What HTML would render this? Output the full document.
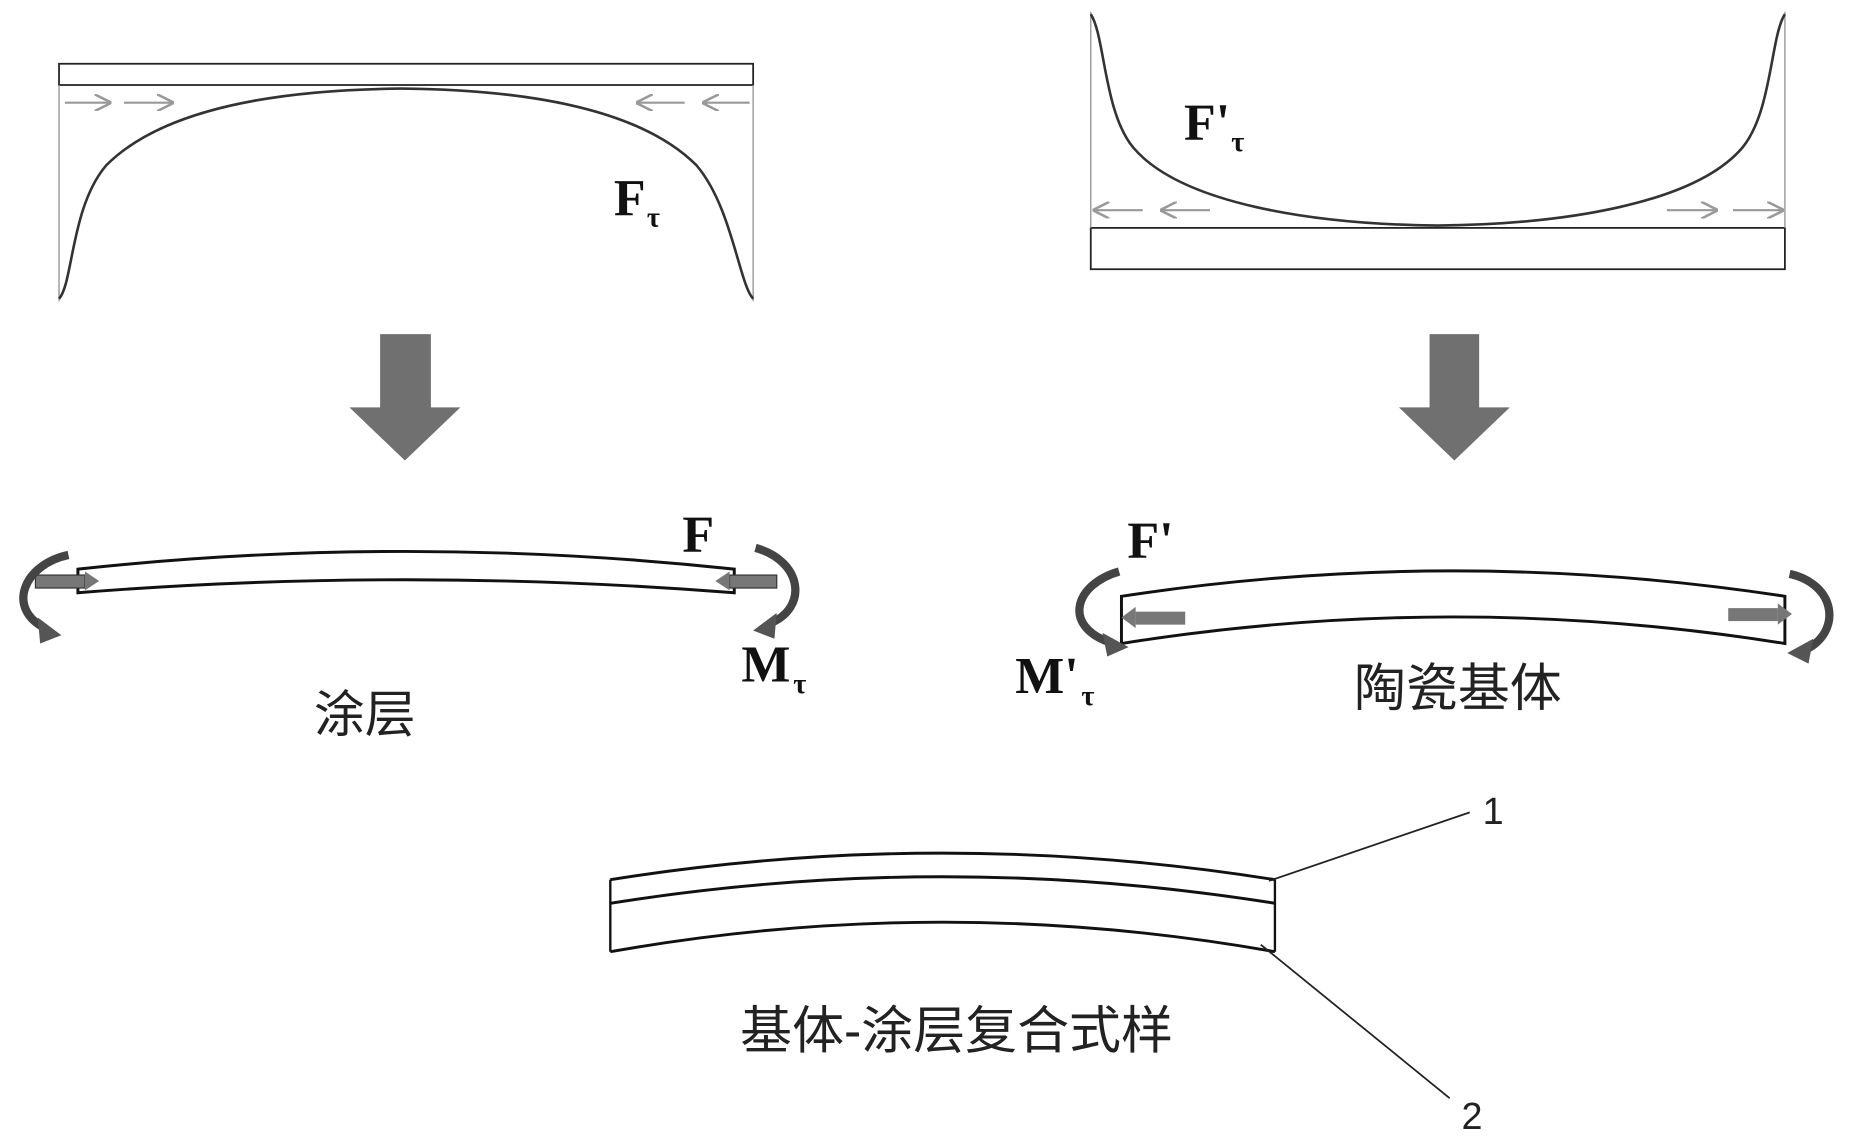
<!DOCTYPE html>
<html><head><meta charset="utf-8"><style>
html,body{margin:0;padding:0;background:#fff;}
svg{display:block;}
.s{font-family:"Liberation Serif",serif;font-weight:bold;fill:#111;}
.c{font-family:"Liberation Sans","Noto Sans CJK SC",sans-serif;fill:#222;}
</style></head><body>
<svg width="1851" height="1143" viewBox="0 0 1568 968" preserveAspectRatio="none" xmlns="http://www.w3.org/2000/svg">
<defs>
<marker id="ga" viewBox="0 0 10 10" refX="9" refY="5" markerWidth="8" markerHeight="8" orient="auto"><path d="M0,0 L10,5 L0,10" fill="none" stroke="#999" stroke-width="1.5"/></marker>
</defs>
<rect x="50" y="54" width="588" height="18" fill="none" stroke="#222" stroke-width="1.5"/>
<line x1="50" y1="72" x2="50" y2="255" stroke="#999" stroke-width="1.2"/>
<line x1="638" y1="72" x2="638" y2="255" stroke="#999" stroke-width="1.2"/>
<path d="M50,253 C62,240 60,175 90,140 C140,90 240,76 340,75 C440,76 540,90 590,140 C620,175 626,240 638,253" fill="none" stroke="#333" stroke-width="2.2"/>
<g stroke="#999" stroke-width="1.8" marker-end="url(#ga)">
<line x1="55" y1="87" x2="93" y2="87"/><line x1="105" y1="87" x2="146" y2="87"/>
<line x1="580" y1="87" x2="540" y2="87"/><line x1="635" y1="87" x2="596" y2="87"/>
</g>
<text x="520" y="182" class="s" font-size="44">F</text><text x="548" y="192" class="s" font-size="24">τ</text>
<rect x="924" y="193" width="588" height="35" fill="none" stroke="#222" stroke-width="1.5"/>
<line x1="924" y1="10" x2="924" y2="193" stroke="#999" stroke-width="1.2"/>
<line x1="1512" y1="10" x2="1512" y2="193" stroke="#999" stroke-width="1.2"/>
<path d="M924,12 C936,30 935,95 960,125 C1000,172 1110,190 1218,191 C1326,190 1436,172 1476,125 C1501,95 1500,30 1512,12" fill="none" stroke="#333" stroke-width="2.2"/>
<g stroke="#999" stroke-width="1.8" marker-end="url(#ga)">
<line x1="968" y1="178" x2="927" y2="178"/><line x1="1025" y1="178" x2="984" y2="178"/>
<line x1="1412" y1="178" x2="1454" y2="178"/><line x1="1468" y1="178" x2="1510" y2="178"/>
</g>
<text x="1003" y="118" class="s" font-size="44">F'</text><text x="1043" y="128" class="s" font-size="24">τ</text>
<polygon points="322,283 365,283 365,345 390,345 343,390 296,345 322,345" fill="#707070"/>
<polygon points="1211,283 1253,283 1253,345 1279,345 1232,390 1185,345 1211,345" fill="#707070"/>
<path d="M66,482 Q342,452 622,482 L622,502 Q342,480 66,502 Z" fill="none" stroke="#111" stroke-width="2.5"/>
<rect x="30" y="487" width="42" height="11" fill="#777" stroke="#333" stroke-width="1"/><polygon points="72,484 84,492 72,500" fill="#777"/>
<rect x="618" y="487" width="40" height="11" fill="#777" stroke="#333" stroke-width="1"/><polygon points="618,484 606,492 618,500" fill="#777"/>
<path d="M58,470 C20,478 5,515 38,532" fill="none" stroke="#444" stroke-width="7"/>
<polygon points="32,523 52,538 34,545" fill="#555"/>
<path d="M640,464 C680,475 685,515 652,528" fill="none" stroke="#444" stroke-width="7"/>
<polygon points="658,519 638,534 656,541" fill="#555"/>
<text x="578" y="467" class="s" font-size="44">F</text>
<text x="628" y="577" class="s" font-size="44">M</text><text x="672" y="587" class="s" font-size="24">τ</text>
<text x="266" y="620" class="c" font-size="43">涂层</text>
<path d="M950,505 Q1231,462 1512,505 L1512,545 Q1231,500 950,545 Z" fill="none" stroke="#111" stroke-width="2.5"/>
<rect x="962" y="518" width="42" height="11" fill="#777"/><polygon points="962,514 950,523 962,532" fill="#777"/>
<rect x="1464" y="515" width="42" height="11" fill="#777"/><polygon points="1506,511 1518,520 1506,529" fill="#777"/>
<path d="M948,484 C910,495 900,530 940,544" fill="none" stroke="#444" stroke-width="7"/>
<polygon points="934,536 956,548 938,556" fill="#555"/>
<path d="M1516,486 C1556,495 1560,535 1530,550" fill="none" stroke="#444" stroke-width="7"/>
<polygon points="1536,541 1514,553 1532,562" fill="#555"/>
<text x="955" y="472" class="s" font-size="44">F'</text>
<text x="860" y="587" class="s" font-size="44">M'</text><text x="916" y="597" class="s" font-size="24">τ</text>
<text x="1147" y="598" class="c" font-size="44">陶瓷基体</text>
<path d="M517,745 Q798,700 1080,745" fill="none" stroke="#111" stroke-width="2.5"/>
<path d="M517,765 Q798,720 1080,765" fill="none" stroke="#111" stroke-width="2.5"/>
<path d="M517,806 Q798,756 1080,806" fill="none" stroke="#111" stroke-width="2.5"/>
<line x1="517" y1="745" x2="517" y2="806" stroke="#111" stroke-width="2"/>
<line x1="1080" y1="745" x2="1080" y2="806" stroke="#111" stroke-width="2"/>
<line x1="1075" y1="746" x2="1245" y2="688" stroke="#222" stroke-width="1.5"/>
<line x1="1068" y1="800" x2="1228" y2="930" stroke="#222" stroke-width="1.5"/>
<text x="1256" y="698" class="c" font-size="32">1</text>
<text x="1238" y="956" class="c" font-size="32">2</text>
<text x="627" y="888" class="c" font-size="44">基体-涂层复合式样</text>
</svg>
</body></html>
